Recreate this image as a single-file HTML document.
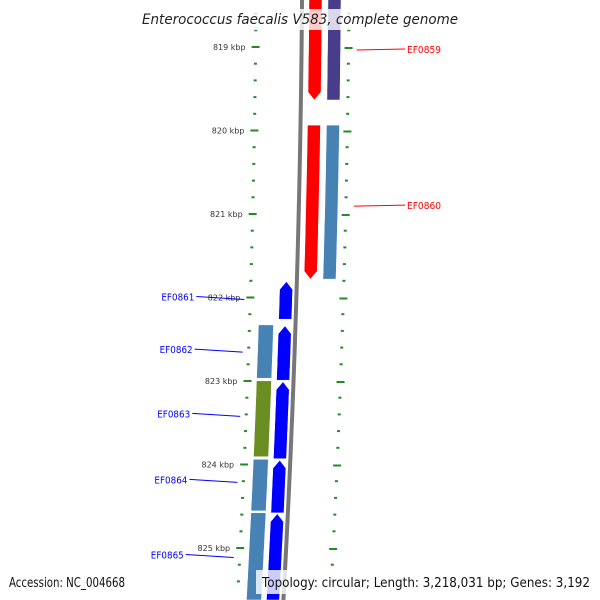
<!DOCTYPE html>
<html><head><meta charset="utf-8"><style>
html,body{margin:0;padding:0;background:#fff;width:600px;height:600px;overflow:hidden}
svg{display:block;font-family:"DejaVu Sans","Liberation Sans",sans-serif}
</style></head><body>
<svg id="map" width="600" height="600" viewBox="0 0 600 600" xmlns="http://www.w3.org/2000/svg">
<g id="ticks"></g>
<g id="feat"></g>
<g id="labels"></g>
<rect x="140" y="9" width="320" height="21" fill="#fff" opacity="0.8"/>
<text x="142" y="24" textLength="316" lengthAdjust="spacingAndGlyphs" font-size="14" font-style="italic" fill="#222">Enterococcus faecalis V583, complete genome</text>
<rect x="0" y="570" width="135" height="24" fill="#fff" opacity="0.8"/>
<text x="9" y="587" textLength="116" lengthAdjust="spacingAndGlyphs" font-size="13" fill="#111">Accession: NC_004668</text>
<rect x="256" y="570" width="344" height="24" fill="#fff" opacity="0.8"/>
<text x="262" y="587" textLength="328" lengthAdjust="spacingAndGlyphs" font-size="13" fill="#111">Topology: circular; Length: 3,218,031 bp; Genes: 3,192</text>
</svg>
<script>
var geneNames=["EF0859","EF0860","EF0861","EF0862","EF0863","EF0864","EF0865"];
var geneStart=[818.4,819.935,821.81,822.34,823.01,823.95,824.59];
var geneEnd=[819.635,821.78,822.26,822.99,823.93,824.58,826.0];
var geneStrand=[1,1,-1,-1,-1,-1,-1];
var cogColor=["#483d8b","#4682b4",null,"#4682b4","#6b8e23","#4682b4","#4682b4"];
var labelKbp=[819.0,820.87,822.0,822.63,823.4,824.19,825.09];
var tickKbp=[819,820,821,822,823,824,825];
var tickLabels=["819 kbp","820 kbp","821 kbp","822 kbp","823 kbp","824 kbp","825 kbp"];
var NS="http://www.w3.org/2000/svg";
function yOf(k){return 47+(k-819)*83.5;}
function cOf(y){return 302-0.007*y-0.000040*y*y;}
function clampY(y){return Math.max(-2,Math.min(600,y));}
function mk(t,a,p){var e=document.createElementNS(NS,t);for(var k in a)e.setAttribute(k,a[k]);p.appendChild(e);return e;}
var T=document.getElementById('ticks'),F=document.getElementById('feat'),L=document.getElementById('labels');
var bb="";for(var y=0;y<=600;y+=10){bb+=(bb?"L":"M")+cOf(y).toFixed(2)+" "+y;}
var b=mk('path',{d:bb,stroke:"#777",'stroke-width':4,fill:"none"},F);


for(var k=818.6;k<=825.8;k+=0.2){
  var kk=Math.round(k*10)/10, y=yOf(kk); if(y<3||y>597)continue;
  var major=Math.abs(kk-Math.round(kk))<0.01, c=cOf(y), len=major?8:3;
  var t1=mk('line',{x1:c-46-len/2,x2:c-46+len/2,y1:y,y2:y,stroke:"#228b22",'stroke-width':2},T);
  
  
  var t2=mk('line',{x1:c+47-len/2,x2:c+47+len/2,y1:y+(major?1:0),y2:y+(major?1:0),stroke:"#228b22",'stroke-width':2},T);
  
  
}
tickKbp.forEach(function(k,i){
  var y=yOf(k);
  var t=mk('text',{x:cOf(y)-56,y:y+3,'text-anchor':'end','font-size':8,fill:"#333"},T);
  t.textContent=tickLabels[i];
  
  
});
function band(y1,y2,o1,o2,dir){
  var head=8,pts=[],a=y1,z=y2;
  if(dir===-1)a=y1+head; if(dir===1)z=y2-head;
  a=clampY(a); z=clampY(z);
  var n=20,i,y;
  for(i=0;i<=n;i++){y=a+(z-a)*i/n;pts.push([cOf(y)+o1,y]);}
  if(dir===1)pts.push([cOf(y2)+(o1+o2)/2,y2]);
  for(i=n;i>=0;i--){y=a+(z-a)*i/n;pts.push([cOf(y)+o2,y]);}
  if(dir===-1)pts.push([cOf(y1)+(o1+o2)/2,y1]);
  return pts.map(function(p){return p[0].toFixed(1)+","+p[1].toFixed(1);}).join(" ");
}
geneNames.forEach(function(nm,i){
  var y1=yOf(geneStart[i]),y2=yOf(geneEnd[i]),s=geneStrand[i];
  var g=mk('g',{},F);
  
  
  var arr=mk('polygon',{points:s>0?band(y1,y2,7,20,1):band(y1,y2,-17,-4,-1),fill:s>0?"#ff0000":"#0000ff",stroke:"#fff",'stroke-width':0.5},g);
  
  
  if(cogColor[i]){
    var cb=mk('polygon',{points:s>0?band(y1,y2,26,39,0):band(y1-1,y2-2,-37,-22,0),fill:cogColor[i],stroke:"#fff",'stroke-width':0.5},g);
    
    
  }
  var ly=yOf(labelKbp[i]),col=s>0?"#ff0000":"#0000ff",c=cOf(ly);
  if(s>0){
    var ln=mk('line',{x1:c+55,x2:405,y1:ly+3,y2:ly+2,stroke:col,'stroke-width':1},L);
    
    
    var tx=mk('text',{x:407,y:ly+6,'font-size':10,fill:col,textLength:34,lengthAdjust:"spacingAndGlyphs"},L);tx.textContent=nm;
    
    
  }else{
    var lx=c-52;
    var tx2=mk('text',{x:lx-83,y:ly+3,'font-size':10,fill:col,textLength:33,lengthAdjust:"spacingAndGlyphs"},L);tx2.textContent=nm;
    
    
    var ln2=mk('line',{x1:lx-48,x2:lx,y1:ly-1,y2:ly+2,stroke:col,'stroke-width':1},L);
    
    
  }
});
</script>
</body></html>
